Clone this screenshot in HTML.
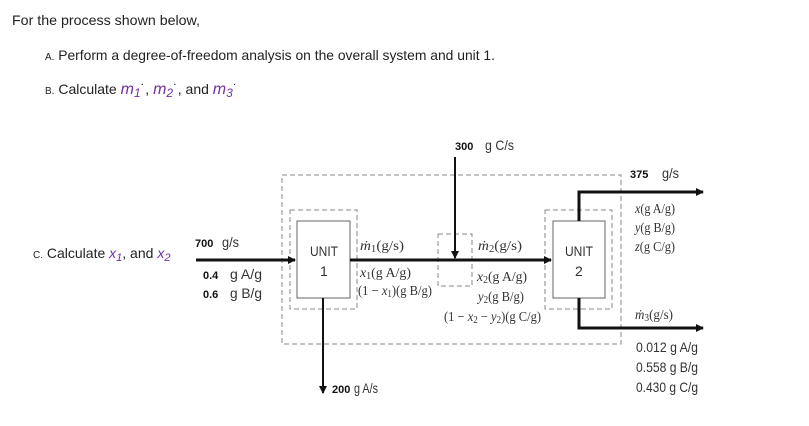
<!DOCTYPE html>
<html><head><meta charset="utf-8"><style>
html,body{margin:0;padding:0;background:#fff;}
svg{display:block;}
.h{font-family:"Liberation Sans",sans-serif;font-size:14px;fill:#222;}
.d{font-family:"Liberation Sans",sans-serif;font-size:14px;fill:#333;}
.s{font-family:"Liberation Serif",serif;font-size:14px;fill:#333;}
.b{font-family:"Liberation Sans",sans-serif;font-size:11px;font-weight:bold;fill:#111;}
.m{font-family:"Liberation Sans",sans-serif;font-style:italic;fill:#7030a0;}
</style></head><body>
<svg width="809" height="426" viewBox="0 0 809 426" xmlns="http://www.w3.org/2000/svg">
<defs><marker id="ar" markerWidth="8" markerHeight="8" refX="7" refY="4" orient="auto" markerUnits="userSpaceOnUse"><path d="M0,0 L8,4 L0,8 z" fill="#111"/></marker></defs>
<text class="h" x="12" y="25" textLength="188" lengthAdjust="spacingAndGlyphs">For the process shown below,</text>
<text class="h" x="45" y="60" textLength="450" lengthAdjust="spacingAndGlyphs"><tspan font-size="10">A.</tspan> Perform a degree-of-freedom analysis on the overall system and unit 1.</text>
<text class="h" x="45" y="94"><tspan font-size="10">B.</tspan> Calculate <tspan class="m" font-size="16">m</tspan><tspan class="m" font-size="12" dy="3">1</tspan><tspan dy="-3">˙, </tspan><tspan class="m" font-size="16">m</tspan><tspan class="m" font-size="12" dy="3">2</tspan><tspan dy="-3">˙, and </tspan><tspan class="m" font-size="16">m</tspan><tspan class="m" font-size="12" dy="3">3</tspan><tspan dy="-3">˙</tspan></text>
<text class="h" x="33" y="258"><tspan font-size="10">C.</tspan> Calculate <tspan class="m">x</tspan><tspan class="m" font-size="11" dy="3">1</tspan><tspan dy="-3">, and </tspan><tspan class="m">x</tspan><tspan class="m" font-size="11" dy="3">2</tspan></text>

<g fill="none" stroke="#888" stroke-width="1" stroke-dasharray="5,3">
<rect x="282" y="175" width="339" height="169"/>
<rect x="290" y="210" width="67" height="99"/>
<rect x="438" y="234" width="34" height="52"/>
<rect x="545" y="210" width="67" height="99"/>
</g>
<g fill="#fff" stroke="#666" stroke-width="1">
<rect x="297" y="221" width="53" height="77"/>
<rect x="553" y="221" width="52" height="77"/>
</g>
<g stroke="#111" stroke-width="3" fill="none">
<line x1="196" y1="260" x2="295" y2="260" marker-end="url(#ar)"/>
<line x1="350" y1="260" x2="551" y2="260" marker-end="url(#ar)"/>
<line x1="455" y1="157" x2="455" y2="258" stroke-width="2" marker-end="url(#ar)"/>
<line x1="323" y1="298" x2="323" y2="393" stroke-width="2" marker-end="url(#ar)"/>
<polyline points="579,221 579,192 703,192" marker-end="url(#ar)"/>
<polyline points="579,298 579,328 703,328" marker-end="url(#ar)"/>
</g>
<text class="d" x="310" y="256" textLength="28" lengthAdjust="spacingAndGlyphs">UNIT</text><text class="d" x="320" y="276">1</text>
<text class="d" x="565" y="256" textLength="28" lengthAdjust="spacingAndGlyphs">UNIT</text><text class="d" x="575" y="276">2</text>
<text class="b" x="195" y="247">700</text><text class="d" x="222" y="247" textLength="17" lengthAdjust="spacingAndGlyphs">g/s</text>
<text class="b" x="203" y="279">0.4</text><text class="d" x="230" y="279" textLength="32" lengthAdjust="spacingAndGlyphs">g A/g</text>
<text class="b" x="203" y="298">0.6</text><text class="d" x="230" y="298" textLength="32" lengthAdjust="spacingAndGlyphs">g B/g</text>
<text class="b" x="455" y="150">300</text><text class="d" x="485" y="150" textLength="29" lengthAdjust="spacingAndGlyphs">g C/s</text>
<text class="b" x="332" y="393">200</text><text class="d" x="354" y="393" textLength="24" lengthAdjust="spacingAndGlyphs">g A/s</text>
<text class="s" x="360" y="250" textLength="44" lengthAdjust="spacingAndGlyphs"><tspan font-style="italic">ṁ</tspan><tspan font-size="10" dy="2">1</tspan><tspan dy="-2">(g/s)</tspan></text>
<text class="s" x="360" y="277" textLength="51" lengthAdjust="spacingAndGlyphs"><tspan font-style="italic">x</tspan><tspan font-size="10" dy="2">1</tspan><tspan dy="-2">(g A/g)</tspan></text>
<text class="s" x="358" y="295" textLength="74" lengthAdjust="spacingAndGlyphs">(1 − <tspan font-style="italic">x</tspan><tspan font-size="10" dy="2">1</tspan><tspan dy="-2">)(g B/g)</tspan></text>
<text class="s" x="478" y="250" textLength="44" lengthAdjust="spacingAndGlyphs"><tspan font-style="italic">ṁ</tspan><tspan font-size="10" dy="2">2</tspan><tspan dy="-2">(g/s)</tspan></text>
<text class="s" x="477" y="281" textLength="50" lengthAdjust="spacingAndGlyphs"><tspan font-style="italic">x</tspan><tspan font-size="10" dy="2">2</tspan><tspan dy="-2">(g A/g)</tspan></text>
<text class="s" x="478" y="301" textLength="46" lengthAdjust="spacingAndGlyphs"><tspan font-style="italic">y</tspan><tspan font-size="10" dy="2">2</tspan><tspan dy="-2">(g B/g)</tspan></text>
<text class="s" x="444" y="321" textLength="97" lengthAdjust="spacingAndGlyphs">(1 − <tspan font-style="italic">x</tspan><tspan font-size="10" dy="2">2</tspan><tspan dy="-2"> − </tspan><tspan font-style="italic">y</tspan><tspan font-size="10" dy="2">2</tspan><tspan dy="-2">)(g C/g)</tspan></text>
<text class="b" x="630" y="178">375</text><text class="d" x="662" y="178" textLength="17" lengthAdjust="spacingAndGlyphs">g/s</text>
<text class="s" x="635" y="213" textLength="40" lengthAdjust="spacingAndGlyphs"><tspan font-style="italic">x</tspan>(g A/g)</text>
<text class="s" x="635" y="232" textLength="40" lengthAdjust="spacingAndGlyphs"><tspan font-style="italic">y</tspan>(g B/g)</text>
<text class="s" x="635" y="251" textLength="40" lengthAdjust="spacingAndGlyphs"><tspan font-style="italic">z</tspan>(g C/g)</text>
<text class="s" x="635" y="319" textLength="38" lengthAdjust="spacingAndGlyphs"><tspan font-style="italic">ṁ</tspan><tspan font-size="10" dy="2">3</tspan><tspan dy="-2">(g/s)</tspan></text>
<text class="d" x="636" y="352" textLength="62" lengthAdjust="spacingAndGlyphs">0.012 g A/g</text>
<text class="d" x="636" y="372" textLength="62" lengthAdjust="spacingAndGlyphs">0.558 g B/g</text>
<text class="d" x="636" y="392" textLength="62" lengthAdjust="spacingAndGlyphs">0.430 g C/g</text>
</svg>
</body></html>
